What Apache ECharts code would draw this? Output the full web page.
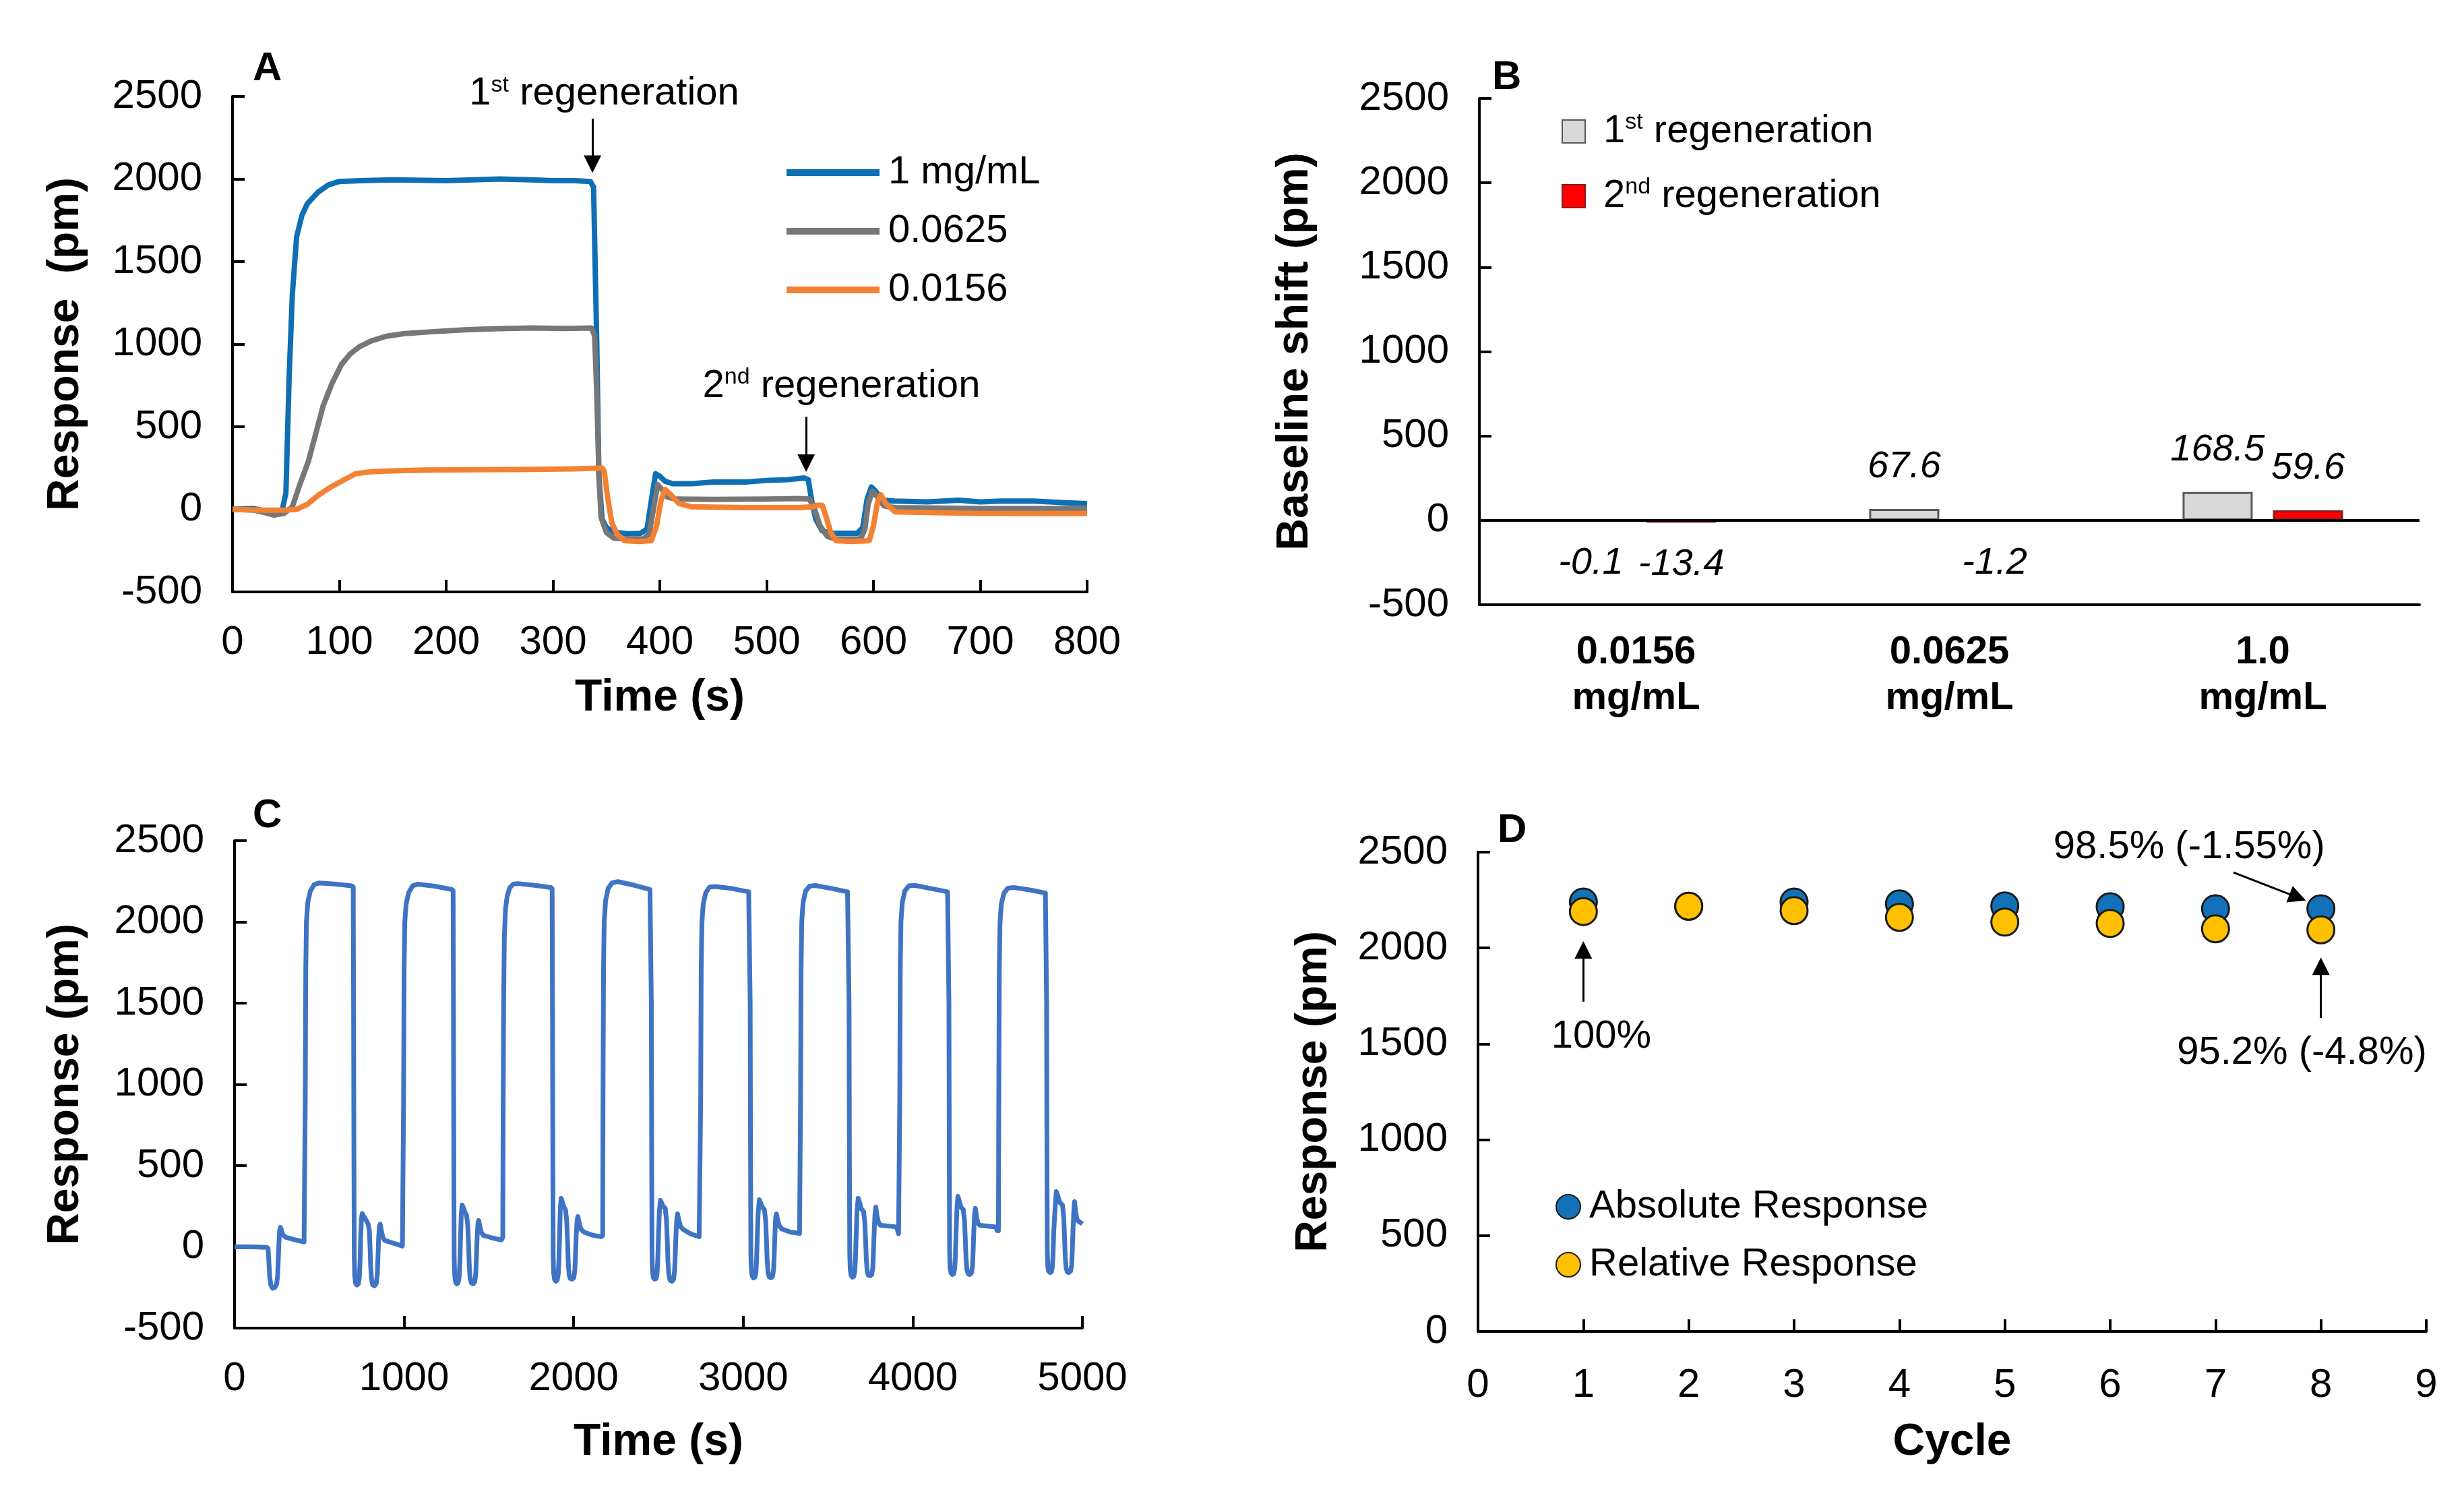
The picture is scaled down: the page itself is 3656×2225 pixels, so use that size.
<!DOCTYPE html>
<html>
<head>
<meta charset="utf-8">
<script src="https://cdn.jsdelivr.net/npm/echarts@6/dist/echarts.min.js"></script>
<style>
html,body{margin:0;padding:0;background:#fff;}
#chart{width:3656px;height:2225px;}
</style>
</head>
<body>
<div id="chart"></div>
<script>
// ---------- Panel A: sensorgrams (time s, response pm) ----------
const aBlue = [[0,0],[20,5],[30,-10],[40,-25],[46,-20],[50,100],[53,800],[56,1300],[60,1650],[65,1780],[70,1850],[80,1920],[90,1965],[100,1985],[120,1990],[150,1995],[200,1990],[250,2000],[280,1995],[300,1990],[320,1990],[335,1985],[338,1950],[341,1000],[343,200],[346,-60],[350,-110],[358,-140],[370,-148],[382,-145],[388,-120],[392,50],[396,215],[400,200],[405,170],[412,155],[430,155],[450,165],[480,165],[500,175],[520,180],[535,190],[539,180],[542,60],[546,-60],[552,-130],[560,-145],[585,-145],[590,-110],[594,60],[598,135],[602,110],[608,55],[620,50],[650,45],[680,55],[700,45],[720,50],[750,50],[780,40],[800,35]];
const aGray = [[0,0],[20,-5],[30,-20],[39,-35],[48,-25],[56,15],[63,150],[71,290],[78,460],[85,630],[93,760],[102,877],[110,940],[119,985],[130,1020],[144,1048],[160,1063],[186,1075],[220,1088],[249,1094],[280,1098],[312,1095],[336,1098],[339,1050],[341,700],[343,200],[345,-50],[350,-140],[357,-175],[370,-180],[385,-178],[390,-150],[394,0],[398,150],[402,120],[407,75],[415,62],[450,60],[500,62],[530,65],[540,62],[545,0],[550,-100],[557,-165],[565,-180],[588,-180],[592,-120],[595,30],[599,110],[603,80],[610,20],[620,10],[700,5],[800,5]];
const aOrange = [[0,0],[30,-5],[50,-5],[60,0],[70,30],[81,88],[92,135],[102,170],[115,215],[130,228],[144,232],[180,238],[228,240],[280,242],[320,245],[346,250],[348,230],[351,80],[355,-80],[360,-150],[367,-190],[380,-195],[392,-190],[397,-100],[401,50],[405,120],[410,90],[418,35],[430,15],[480,10],[530,10],[543,15],[547,25],[552,25],[555,-30],[560,-140],[565,-190],[580,-195],[596,-190],[600,-100],[604,50],[607,88],[611,40],[620,-15],[660,-20],[700,-25],[750,-25],[800,-25]];
const aNames = ['1 mg/mL','0.0625','0.0156'];

// ---------- Panel B: baseline shift ----------
const bCategories = ['0.0156\nmg/mL','0.0625\nmg/mL','1.0\nmg/mL'];
const bFirst = [-0.1, 67.6, 168.5];
const bSecond = [-13.4, -1.2, 59.6];

// ---------- Panel C: repeated cycles ----------
const cTrace = [
[0,0],[100,0],[190,-3],[198,-10],[202,-80],[207,-180],[214,-235],[225,-255],[238,-250],[248,-230],[254,-180],[258,-80],[262,30],[266,100],[271,120],[276,105],[285,75],[300,60],[350,45],[410,30],
[415,30],[417,900],[420,1700],[424,2000],[432,2120],[447,2190],[470,2230],[500,2240],[600,2232],[690,2222],
[700,2215],[702,1500],[704,600],[706,-50],[709,-180],[714,-225],[722,-235],[730,-228],[736,-190],[740,-100],[744,60],[748,170],[753,205],[758,200],[766,180],[778,160],[788,140],[795,100],[799,0],[803,-120],[808,-200],[815,-235],[826,-240],[836,-225],[842,-170],[846,-60],[850,60],[855,130],[859,140],[866,100],[874,60],[885,40],[920,28],[960,15],[990,5],
[995,10],[997,900],[1000,1700],[1004,2000],[1012,2110],[1027,2180],[1050,2222],[1080,2232],[1180,2220],[1280,2200],
[1289,2192],[1291,1500],[1293,600],[1295,-50],[1298,-170],[1303,-215],[1311,-228],[1319,-220],[1325,-180],[1329,-90],[1333,60],[1337,200],[1342,257],[1348,245],[1358,215],[1368,195],[1375,140],[1380,20],[1384,-110],[1389,-190],[1396,-222],[1407,-228],[1417,-215],[1423,-160],[1427,-50],[1431,70],[1436,150],[1440,162],[1447,125],[1455,90],[1467,71],[1520,55],[1574,42],
[1582,60],[1584,800],[1587,1500],[1591,1900],[1598,2080],[1608,2160],[1623,2210],[1643,2232],[1670,2236],[1770,2225],[1865,2212],
[1873,2205],[1875,1500],[1877,600],[1879,-50],[1882,-160],[1887,-200],[1895,-212],[1903,-205],[1909,-170],[1913,-80],[1917,70],[1921,230],[1926,299],[1932,280],[1942,245],[1952,228],[1959,160],[1964,30],[1968,-100],[1973,-170],[1980,-195],[1991,-199],[2001,-190],[2007,-140],[2011,-40],[2015,70],[2020,160],[2025,187],[2032,150],[2042,110],[2060,91],[2110,72],[2163,62],
[2171,70],[2173,900],[2176,1700],[2180,2000],[2188,2130],[2203,2205],[2226,2240],[2260,2248],[2360,2225],[2450,2200],
[2456,2192],[2458,1500],[2460,600],[2462,-50],[2465,-150],[2470,-190],[2478,-199],[2486,-195],[2492,-165],[2496,-80],[2500,60],[2505,210],[2511,286],[2517,275],[2527,250],[2540,237],[2547,170],[2552,40],[2556,-90],[2561,-170],[2568,-205],[2579,-212],[2589,-200],[2595,-150],[2599,-50],[2603,70],[2608,170],[2613,203],[2620,165],[2630,125],[2645,108],[2690,80],[2740,62],
[2747,70],[2749,900],[2752,1700],[2756,1990],[2764,2110],[2779,2180],[2802,2215],[2835,2218],[2935,2205],[3032,2185],
[3039,2178],[3041,1500],[3043,600],[3045,-50],[3048,-145],[3053,-180],[3061,-191],[3069,-186],[3075,-155],[3079,-70],[3083,70],[3088,210],[3095,290],[3101,275],[3112,245],[3125,228],[3132,165],[3137,40],[3141,-80],[3146,-155],[3153,-185],[3163,-191],[3173,-180],[3179,-140],[3183,-40],[3187,80],[3191,180],[3196,203],[3203,165],[3213,130],[3228,110],[3280,90],[3332,83],
[3336,90],[3338,900],[3341,1700],[3345,2000],[3353,2120],[3368,2190],[3391,2220],[3425,2224],[3525,2205],[3615,2185],
[3622,2178],[3624,1500],[3626,600],[3628,-40],[3631,-140],[3636,-175],[3644,-187],[3652,-182],[3658,-150],[3662,-70],[3666,70],[3671,220],[3678,299],[3684,280],[3696,235],[3710,216],[3717,150],[3722,30],[3726,-80],[3731,-150],[3738,-175],[3748,-178],[3758,-170],[3764,-130],[3768,-30],[3772,90],[3777,200],[3782,245],[3789,190],[3798,150],[3809,133],[3860,128],[3905,122],[3912,95],[3916,80],
[3921,85],[3923,900],[3926,1700],[3930,2000],[3938,2120],[3953,2190],[3976,2222],[4010,2225],[4110,2205],[4205,2185],
[4211,2178],[4213,1500],[4215,600],[4217,-30],[4220,-130],[4225,-160],[4233,-170],[4241,-166],[4247,-135],[4251,-60],[4255,80],[4260,230],[4266,311],[4272,290],[4284,245],[4298,228],[4305,160],[4310,40],[4314,-70],[4319,-140],[4326,-165],[4336,-170],[4346,-160],[4352,-120],[4356,-20],[4360,100],[4365,210],[4369,237],[4376,180],[4385,145],[4395,133],[4440,128],[4490,122],[4497,100],[4502,95],
[4505,100],[4507,900],[4510,1700],[4514,1990],[4522,2110],[4537,2175],[4560,2208],[4595,2212],[4700,2195],[4782,2178],
[4787,2172],[4789,1500],[4791,600],[4793,-20],[4796,-120],[4801,-150],[4809,-158],[4817,-155],[4823,-125],[4827,-50],[4831,90],[4840,250],[4846,340],[4853,320],[4866,275],[4883,257],[4890,180],[4895,50],[4899,-60],[4904,-130],[4911,-155],[4921,-158],[4931,-148],[4937,-110],[4941,-10],[4945,110],[4950,230],[4954,278],[4960,220],[4968,170],[4980,155],[4992,148],[5000,141]];

// ---------- Panel D: response per cycle ----------
const dCycles = [1,2,3,4,5,6,7,8];
const dAbsolute = [2240,2218,2240,2230,2220,2215,2205,2205];
const dRelative = [2190,2218,2195,2160,2135,2128,2100,2095];

// ---------- annotations (data coordinates) ----------
const aNotes = [[[348, 2515], '1{sup|st} regeneration'], [[570, 745], '2{sup|nd} regeneration']];
const aArrows = [[[337, 2365], [337, 2090]], [[537, 560], [537, 280]]];
const dNotes = [[[1.17, 1535], '100%'], [[7.82, 1452], '95.2% (-4.8%)'], [[6.75, 2525], '98.5% (-1.55%)']];
const dArrows = [[[1, 1720], [1, 1990]], [[8, 1635], [8, 1905]], [[7.17, 2394], [7.78, 2264]]];

// ---------- styles ----------
const FONT = '"Liberation Sans", Arial, Helvetica, sans-serif';
const TXT = 58;
const plain = v => String(v);
const supRich = { sup: { fontSize: 34, verticalAlign: 'top', lineHeight: 34, fontFamily: FONT, color: '#000', fill: '#000' } };

function valueAxis(o) {
  return Object.assign({
    type: 'value',
    axisLine: { show: true, onZero: false, lineStyle: { color: '#000', width: 4 } },
    axisTick: { show: true, inside: true, length: 18, lineStyle: { color: '#000', width: 4 } },
    axisLabel: { fontSize: 60, color: '#000', fontFamily: FONT, margin: 45, formatter: plain },
    splitLine: { show: false },
    nameLocation: 'middle',
    nameTextStyle: { fontSize: 66, fontWeight: 'bold', color: '#000', fontFamily: FONT }
  }, o);
}

const arrowLine = (pairs) => ({
  silent: true,
  symbol: ['none', 'triangle'],
  symbolSize: 26,
  label: { show: false },
  lineStyle: { color: '#000', width: 3, type: 'solid' },
  itemStyle: { color: '#000' },
  emphasis: { disabled: true },
  data: pairs.map(p => [{ coord: p[0] }, { coord: p[1] }])
});

const chart = echarts.init(document.getElementById('chart'), null, { renderer: 'canvas' });

const option = {
  animation: false,
  backgroundColor: '#fff',
  title: [
    { text: 'A', left: 375, top: 72 },
    { text: 'B', left: 2214, top: 85 },
    { text: 'C', left: 375, top: 1180 },
    { text: 'D', left: 2222, top: 1202 }
  ].map(t => Object.assign(t, { padding: 0, textStyle: { fontSize: 60, fontWeight: 'bold', color: '#000', fontFamily: FONT } })),
  legend: [
    {
      data: aNames, orient: 'vertical', left: 1162, top: 222,
      icon: 'rect', itemWidth: 138, itemHeight: 10, itemGap: 29, selectedMode: false,
      textStyle: { fontSize: TXT, color: '#000', fontFamily: FONT, padding: [0, 0, 0, 8] }
    },
    {
      data: ['1st regeneration', '2nd regeneration'], orient: 'vertical', left: 2312, top: 160,
      icon: 'rect', itemWidth: 34, itemHeight: 34, itemGap: 36, selectedMode: false,
      formatter: n => n === '1st regeneration' ? '1{sup|st} regeneration' : '2{sup|nd} regeneration',
      textStyle: { fontSize: TXT, lineHeight: 60, color: '#000', fontFamily: FONT, padding: [0, 0, 0, 22], rich: supRich }
    },
    {
      data: ['Absolute Response', 'Relative Response'], orient: 'vertical', left: 2303, top: 1756,
      icon: 'circle', itemWidth: 36, itemHeight: 36, itemGap: 28, selectedMode: false,
      textStyle: { fontSize: TXT, color: '#000', fontFamily: FONT, padding: [0, 0, 0, 8] }
    }
  ],
  grid: [
    { left: 345, right: 2043, top: 143, bottom: 1347 },
    { left: 2195, right: 66, top: 146, bottom: 1328 },
    { left: 348, right: 2050, top: 1247, bottom: 255 },
    { left: 2193, right: 56, top: 1264, bottom: 250 }
  ],
  xAxis: [
    valueAxis({ gridIndex: 0, min: 0, max: 800, interval: 100, name: 'Time (s)', nameGap: 125 }),
    {
      type: 'category', gridIndex: 1, data: bCategories,
      axisLine: { show: true, onZero: false, lineStyle: { color: '#000', width: 4 } },
      axisTick: { show: false },
      axisLabel: { fontSize: TXT, fontWeight: 'bold', lineHeight: 68, color: '#000', fontFamily: FONT, margin: 37 },
      splitLine: { show: false }
    },
    valueAxis({ gridIndex: 2, min: 0, max: 5000, interval: 1000, name: 'Time (s)', nameGap: 137 }),
    valueAxis({ gridIndex: 3, min: 0, max: 9, interval: 1, name: 'Cycle', nameGap: 132, axisLabel: { fontSize: 60, color: '#000', fontFamily: FONT, margin: 50, formatter: plain } })
  ],
  yAxis: [
    valueAxis({ gridIndex: 0, min: -500, max: 2500, interval: 500, name: 'Response  (pm)', nameGap: 214 }),
    valueAxis({ gridIndex: 1, min: -500, max: 2500, interval: 500, name: 'Baseline shift (pm)', nameGap: 240 }),
    valueAxis({ gridIndex: 2, min: -500, max: 2500, interval: 500, name: 'Response (pm)', nameGap: 217 }),
    valueAxis({ gridIndex: 3, min: 0, max: 2500, interval: 500, name: 'Response (pm)', nameGap: 210 })
  ],
  series: [
    {
      type: 'line', name: aNames[0], xAxisIndex: 0, yAxisIndex: 0, data: aBlue,
      symbol: 'none', lineStyle: { width: 8, color: '#0f6fb4', join: 'round' }, itemStyle: { color: '#0f6fb4' },
      markLine: arrowLine(aArrows)
    },
    {
      type: 'line', name: aNames[1], xAxisIndex: 0, yAxisIndex: 0, data: aGray,
      symbol: 'none', lineStyle: { width: 8, color: '#777777', join: 'round' }, itemStyle: { color: '#777777' }
    },
    {
      type: 'line', name: aNames[2], xAxisIndex: 0, yAxisIndex: 0, data: aOrange,
      symbol: 'none', lineStyle: { width: 8, color: '#f38132', join: 'round' }, itemStyle: { color: '#f38132' }
    },
    {
      type: 'bar', name: '1st regeneration', xAxisIndex: 1, yAxisIndex: 1,
      data: bFirst.map(v => ({ value: v, label: { position: v < 0 ? 'bottom' : 'top' } })),
      barWidth: 104, barGap: '29%',
      itemStyle: { color: '#d9d9d9', borderColor: '#595959', borderWidth: 3 },
      label: { show: true, fontStyle: 'italic', fontSize: 56, color: '#000', fontFamily: FONT, distance: 34 },
      markLine: { silent: true, symbol: 'none', label: { show: false }, lineStyle: { color: '#000', width: 4, type: 'solid' }, data: [{ yAxis: 0 }] }
    },
    {
      type: 'bar', name: '2nd regeneration', xAxisIndex: 1, yAxisIndex: 1,
      data: bSecond.map(v => ({ value: v, label: { position: v < 0 ? 'bottom' : 'top' } })),
      barWidth: 104, barGap: '29%',
      itemStyle: { color: '#ff0000', borderColor: '#8b1a1a', borderWidth: 3 },
      label: { show: true, fontStyle: 'italic', fontSize: 56, color: '#000', fontFamily: FONT, distance: 34 }
    },
    {
      type: 'line', name: 'Cycle trace', xAxisIndex: 2, yAxisIndex: 2, data: cTrace,
      symbol: 'none', lineStyle: { width: 7, color: '#3f74c4', join: 'round' }, itemStyle: { color: '#3f74c4' }
    },
    {
      type: 'scatter', name: 'Absolute Response', xAxisIndex: 3, yAxisIndex: 3,
      data: dCycles.map((c, i) => [c, dAbsolute[i]]),
      symbol: 'circle', symbolSize: 40,
      itemStyle: { color: '#1271b8', borderColor: '#1a1a1a', borderWidth: 3, opacity: 1 },
      markLine: arrowLine(dArrows)
    },
    {
      type: 'scatter', name: 'Relative Response', xAxisIndex: 3, yAxisIndex: 3,
      data: dCycles.map((c, i) => [c, dRelative[i]]),
      symbol: 'circle', symbolSize: 40,
      itemStyle: { color: '#ffc000', borderColor: '#1a1a1a', borderWidth: 3, opacity: 1 }
    }
  ]
};

chart.setOption(option);

// annotation texts placed through the axes' own scales
function noteGraphics(gridIndex, notes) {
  return notes.map(n => {
    const p = chart.convertToPixel({ gridIndex: gridIndex }, n[0]);
    return {
      type: 'text', x: p[0], y: p[1], silent: true, z: 50,
      style: {
        text: n[1], fill: '#000', fontSize: TXT, fontFamily: FONT, lineHeight: 60,
        align: 'center', verticalAlign: 'middle', rich: supRich
      }
    };
  });
}
chart.setOption({ graphic: noteGraphics(0, aNotes).concat(noteGraphics(3, dNotes)) });
</script>
</body>
</html>
